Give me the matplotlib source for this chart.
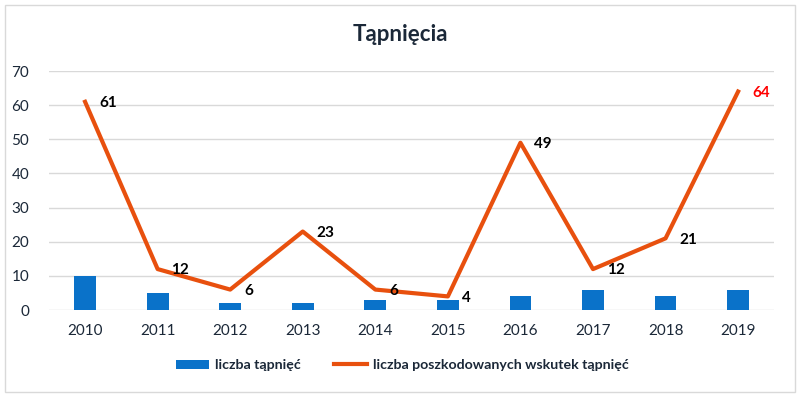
import matplotlib.pyplot as plt
import numpy as np

years = ["2010", "2011", "2012", "2013", "2014", "2015", "2016", "2017", "2018", "2019"]
tapniecia = [10, 5, 2, 2, 3, 3, 4, 6, 4, 6]
poszkodowani = [61, 12, 6, 23, 6, 4, 49, 12, 21, 64]

plt.rcParams["font.family"] = ["Lato", "DejaVu Sans"]
text_col = "#1b2838"

fig = plt.figure(figsize=(8, 3.97), dpi=100)
ax = fig.add_axes([0.061, 0.219, 0.907, 0.602])
x = np.arange(len(years))

bars = ax.bar(x, tapniecia, width=0.3, color="#0a72c9", zorder=2)
line, = ax.plot(x, poszkodowani, color="#e8500e", lw=3, zorder=3)

for i, v in enumerate(poszkodowani):
    col = "#ff0000" if i == len(poszkodowani) - 1 else "black"
    ax.annotate(str(v), (x[i], v), xytext=(10, -1), textcoords="offset points",
                ha="left", va="center", fontsize=11, fontweight="bold", color=col, zorder=4)

ax.set_xlim(-0.5, len(years) - 0.5)
ax.set_ylim(0, 70)
ax.set_yticks(range(0, 71, 10))
ax.set_xticks(x, years)
ax.grid(axis="y", color="#d9d9d9", lw=1, zorder=0)
for s in ax.spines.values():
    s.set_visible(False)
ax.tick_params(length=0, labelsize=11, colors=text_col, pad=10)
ax.tick_params(axis="y", pad=14)

fig.suptitle("Tąpnięcia", x=0.5, y=0.94, fontsize=16, fontweight="bold", color=text_col)
leg = fig.legend([bars, line], ["liczba tąpnięć", "liczba poszkodowanych wskutek tąpnięć"],
                 loc="center", bbox_to_anchor=(0.503, 0.08), ncol=2, frameon=False,
                 fontsize=10.2, handlelength=2.3, handleheight=0.6, handletextpad=0.4,
                 columnspacing=2.4)
for t in leg.get_texts():
    t.set_color(text_col)
    t.set_fontweight("bold")

fig.patches.append(plt.Rectangle((0.006, 0.012), 0.988, 0.976, transform=fig.transFigure,
                                 fill=False, ec="#d9d9d9", lw=1))
fig.savefig("out.png", dpi=100)
